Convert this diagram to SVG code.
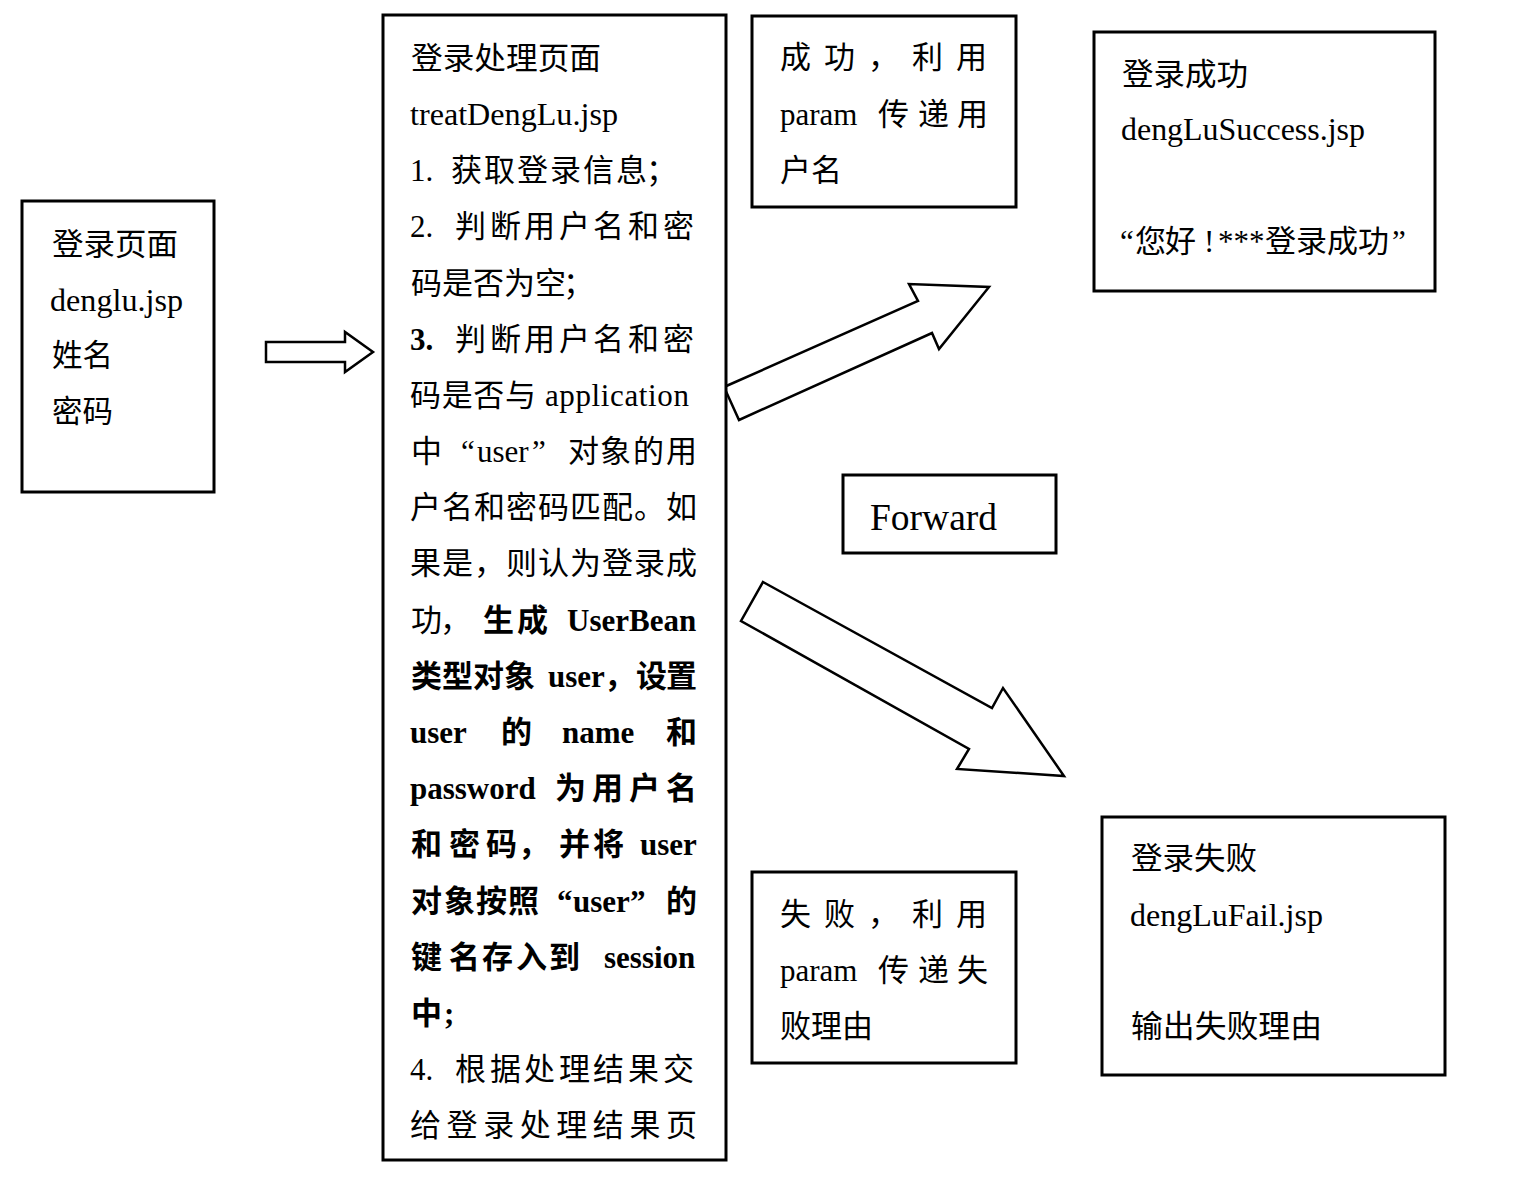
<svg xmlns="http://www.w3.org/2000/svg" width="1529" height="1177" viewBox="0 0 1529 1177">
<style>
.box{fill:#fff;stroke:#000;stroke-width:3}
.arr{fill:#fff;stroke:#000;stroke-width:2.5;stroke-linejoin:miter}
text{font-family:"Liberation Serif","Noto Sans CJK SC",serif;font-size:31px;fill:#000}
.b{font-weight:bold}
.fw{font-size:38px}
</style>
<rect width="1529" height="1177" fill="#fff"/>
<g id="connectors">
<polygon class="arr" points="266,342 345,342 345,332 373,352 345,372 345,362 266,362"/>
<polygon class="arr" points="724,387 918,301 909,284 989,287 939,349 932,333 739,420"/>
<polygon class="arr" points="763,582 992,708 1003,688 1064,776 957,769 969,749 741,621"/>
</g>
<g id="login-page">
<rect class="box" x="22" y="201" width="192" height="291"/>
<text x="52" y="255" textLength="126" lengthAdjust="spacingAndGlyphs">登录页面</text>
<text x="50" y="311" textLength="133" lengthAdjust="spacingAndGlyphs">denglu.jsp</text>
<text x="52" y="366" textLength="61" lengthAdjust="spacingAndGlyphs">姓名</text>
<text x="52" y="422" textLength="61" lengthAdjust="spacingAndGlyphs">密码</text>
</g>
<g id="treat-page">
<rect class="box" x="383" y="15" width="343" height="1145"/>
<text x="411" y="69" textLength="190" lengthAdjust="spacingAndGlyphs">登录处理页面</text>
<text x="410" y="125" textLength="208" lengthAdjust="spacingAndGlyphs">treatDengLu.jsp</text>
<text y="181"><tspan x="410">1.</tspan><tspan x="451 484 517 550 583 616 646">获取登录信息；</tspan></text>
<text y="237"><tspan x="410">2.</tspan><tspan x="455 490 524 559 593 628 663">判断用户名和密</tspan></text>
<text y="294"><tspan x="411 442 473 504 535 563">码是否为空；</tspan></text>
<text y="350"><tspan x="410" class="b">3.</tspan><tspan x="455 490 524 559 593 628 663">判断用户名和密</tspan></text>
<text x="410" y="406" textLength="279" lengthAdjust="spacing">码是否与 application</text>
<text y="462"><tspan x="411">中</tspan><tspan x="461">“</tspan><tspan x="477">user</tspan><tspan x="532">”</tspan><tspan x="568 600 633 666">对象的用</tspan></text>
<text x="410" y="518" textLength="287" lengthAdjust="spacing">户名和密码匹配。如</text>
<text x="410" y="574" textLength="287" lengthAdjust="spacing">果是，则认为登录成</text>
<text y="631"><tspan x="411 440">功，</tspan><tspan class="b" x="483 517">生成</tspan><tspan class="b" x="567">UserBean</tspan></text>
<text y="687" class="b"><tspan x="411 442 473 504">类型对象</tspan><tspan x="548">user</tspan><tspan x="604">，</tspan><tspan x="636 666">设置</tspan></text>
<text y="743" class="b"><tspan x="410">user</tspan><tspan x="501">的</tspan><tspan x="562">name</tspan><tspan x="666">和</tspan></text>
<text y="799" class="b"><tspan x="410">password</tspan><tspan x="555 592 629 666">为用户名</tspan></text>
<text y="855" class="b"><tspan x="411 449 486 518">和密码，</tspan><tspan x="559 593">并将</tspan><tspan x="640">user</tspan></text>
<text y="912" class="b"><tspan x="411 444 476 508">对象按照</tspan><tspan x="557">“</tspan><tspan x="573">user</tspan><tspan x="630">”</tspan><tspan x="666">的</tspan></text>
<text y="968" class="b"><tspan x="411 449 482 516 549">键名存入到</tspan><tspan x="604">session</tspan></text>
<text y="1024" class="b"><tspan x="411">中</tspan><tspan x="444">;</tspan></text>
<text y="1080"><tspan x="410">4.</tspan><tspan x="455 490 524 559 593 628 663">根据处理结果交</tspan></text>
<text x="410" y="1136" textLength="287" lengthAdjust="spacing">给登录处理结果页</text>
</g>
<g id="success-param">
<rect class="box" x="752" y="16" width="264" height="191"/>
<text x="780" y="68" textLength="207" lengthAdjust="spacing">成 功 ， 利 用</text>
<text y="125"><tspan x="780">param</tspan><tspan x="878 918 957">传递用</tspan></text>
<text x="780" y="181" textLength="62" lengthAdjust="spacingAndGlyphs">户名</text>
</g>
<g id="forward">
<rect class="box" x="843" y="475" width="213" height="78"/>
<text class="fw" x="870" y="530" textLength="127" lengthAdjust="spacingAndGlyphs">Forward</text>
</g>
<g id="fail-param">
<rect class="box" x="752" y="872" width="264" height="191"/>
<text x="780" y="925" textLength="207" lengthAdjust="spacing">失 败 ， 利 用</text>
<text y="981"><tspan x="780">param</tspan><tspan x="878 918 957">传递失</tspan></text>
<text x="780" y="1037" textLength="93" lengthAdjust="spacingAndGlyphs">败理由</text>
</g>
<g id="success-page">
<rect class="box" x="1094" y="32" width="341" height="259"/>
<text x="1122" y="85" textLength="126" lengthAdjust="spacingAndGlyphs">登录成功</text>
<text x="1121" y="140" textLength="244" lengthAdjust="spacingAndGlyphs">dengLuSuccess.jsp</text>
<text y="252"><tspan x="1120">“</tspan><tspan x="1135 1165">您好</tspan><tspan x="1204">!</tspan><tspan x="1218">***</tspan><tspan x="1265 1296 1327 1358">登录成功</tspan><tspan x="1392">”</tspan></text>
</g>
<g id="fail-page">
<rect class="box" x="1102" y="817" width="343" height="258"/>
<text x="1131" y="869" textLength="126" lengthAdjust="spacingAndGlyphs">登录失败</text>
<text x="1130" y="926" textLength="193" lengthAdjust="spacingAndGlyphs">dengLuFail.jsp</text>
<text x="1131" y="1037" textLength="191" lengthAdjust="spacingAndGlyphs">输出失败理由</text>
</g>
</svg>
